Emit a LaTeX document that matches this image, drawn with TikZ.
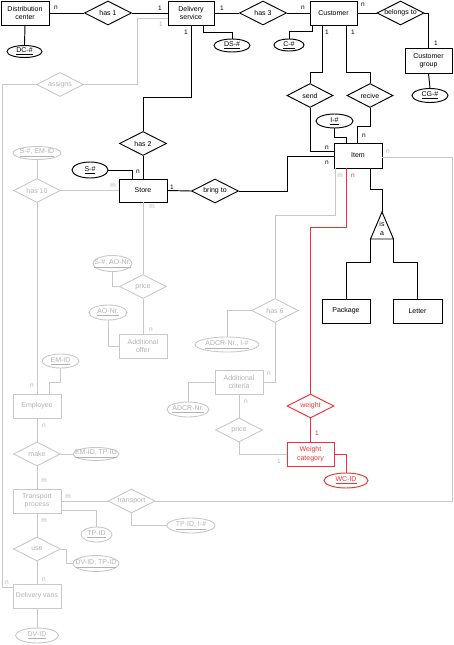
\documentclass[tikz,border=0pt]{standalone}
\usepackage{fontspec}
\setmainfont{Liberation Sans}
\usetikzlibrary{shapes.geometric,calc}
\definecolor{lg}{RGB}{200,200,200}
\definecolor{lgt}{RGB}{178,178,178}
\definecolor{rd}{RGB}{240,50,50}
\newcommand{\attrtxt}[1]{\makebox[0pt]{\underline{#1}}}
\begin{document}
\begin{tikzpicture}[x=1pt,y=-1pt,font=\fontsize{7}{8.4}\selectfont,line width=0.95pt,
  ent/.style={draw, rectangle, minimum width=47pt, minimum height=24pt, inner sep=1pt, align=center},
  rel/.style={draw, diamond, aspect=2, inner sep=0pt, minimum width=47pt, minimum height=24pt},
  att/.style 2 args={draw, ellipse, inner sep=0pt, minimum width=#1pt, minimum height=#2pt},
  gn/.style={draw=lg, text=lgt, line width=0.9pt},
  rn/.style={draw=rd, text=rd},
  gl/.style={draw=lg, line width=0.9pt},
  rl/.style={draw=rd},
  card/.style={font=\fontsize{6.5}{6.5}\selectfont, inner sep=0pt},
  gc/.style={card, text=lgt},
  rc/.style={card, text=rd}]
\useasboundingbox (0,0) rectangle (454,645);

% ---------- nodes: black ----------
\node[ent, minimum width=48pt] (DC) at (25,13) {Distribution\\center};
\node[rel] (has1) at (108,13) {has 1};
\node[ent, minimum width=46pt] (DS) at (191,13) {Delivery\\service};
\node[rel] (has3) at (263,13) {has 3};
\node[ent] (CU) at (333.5,13) {Customer};
\node[rel] (bel) at (400.5,13) {belongs to};
\node[ent, minimum height=25pt] (CG) at (428.5,60.5) {Customer\\group};
\node[att={35}{12}] (DCid) at (24.5,51.5) {\attrtxt{DC-\#}};
\node[att={36}{13}] (DSid) at (232,45.5) {\attrtxt{DS-\#}};
\node[att={30}{12}] (Cid) at (289,45) {\attrtxt{C-\#}};
\node[att={36}{14}] (CGid) at (430,95.5) {\attrtxt{CG-\#}};
\node[rel, minimum width=46pt] (send) at (310,95.5) {send};
\node[rel, minimum width=46pt] (recive) at (370,95.5) {recive};
\node[att={37}{14}] (Iid) at (334.5,121) {\attrtxt{I-\#}};
\node[ent, minimum width=48pt, minimum height=25pt] (Item) at (358,155.5) {Item};
\node[rel] (has2) at (143,143.5) {has 2};
\node[ent, minimum width=48pt, minimum height=23pt] (Store) at (143,190.5) {Store};
\node[att={36}{16}] (Sid) at (90,170) {\attrtxt{S-\#}};
\node[rel] (bring) at (215,191) {bring to};
\coordinate (isaT) at (382,212);
\coordinate (isaL) at (370.5,239);
\coordinate (isaR) at (393.5,239);
\draw (isaT) -- (isaR) -- (isaL) -- cycle;
\node[align=center, font=\fontsize{7}{9}\selectfont, inner sep=0pt] (isa) at (382,228.5) {is\\a};
\node[ent, minimum width=48pt] (Package) at (346,311) {Package};
\node[ent, minimum width=49pt] (Letter) at (417.5,311) {Letter};

% ---------- nodes: red ----------
\node[rel, rn] (weight) at (310.5,406) {weight};
\node[ent, rn] (WCat) at (310.5,454) {Weight\\category};
\node[att={44}{15}, rn] (WCid) at (346,480.5) {\attrtxt{WC-ID}};

% ---------- nodes: gray ----------
\node[rel, gn] (assigns) at (60,84.5) {assigns};
\node[att={48}{13}, gn] (SEMid) at (37,153) {\attrtxt{S-\#, EM-ID}};
\node[rel, gn] (has10) at (37,190.5) {has 10};
\node[att={39}{16}, gn] (SAOid) at (112.5,263.5) {\attrtxt{S-\#, AO-Nr.}};
\node[rel, gn] (price1) at (143,286.5) {price};
\node[att={38}{15}, gn] (AOid) at (108,312.5) {\attrtxt{AO-Nr.}};
\node[ent, gn, minimum width=48pt] (AO) at (143,346) {Additional\\offer};
\node[rel, gn] (has6) at (275,310.5) {has 6};
\node[att={64}{15}, gn] (ADCRI) at (227,344.5) {\attrtxt{ADCR-Nr., I-\#}};
\node[ent, gn, minimum width=48pt] (AC) at (239,382) {Additional\\criteria};
\node[att={42}{15}, gn] (ADCR) at (188,409.5) {\attrtxt{ADCR-Nr.}};
\node[rel, gn] (price2) at (239,430) {price};
\node[att={37}{14}, gn] (EMid) at (60.5,361) {\attrtxt{EM-ID}};
\node[ent, gn, minimum width=48pt] (EMP) at (37,406) {Employee};
\node[rel, gn] (make) at (37,454) {make};
\node[att={46}{13}, gn] (EMTP) at (96,454) {\attrtxt{EM-ID, TP-ID}};
\node[ent, gn, minimum width=48pt] (TP) at (37,501) {Transport\\process};
\node[rel, gn] (transport) at (131.5,501) {transport};
\node[att={31}{15}, gn] (TPid) at (96.5,534.5) {\attrtxt{TP-ID}};
\node[att={48}{15}, gn] (TPI) at (191,525.5) {\attrtxt{TP-ID, I-\#}};
\node[rel, gn] (use) at (37,549) {use};
\node[att={46}{16}, gn] (DVTP) at (96,563.5) {\attrtxt{DV-ID, TP-ID}};
\node[ent, gn, minimum width=48pt] (DV) at (37,596) {Delivery vans};
\node[att={43}{15}, gn] (DVid) at (37,635.5) {\attrtxt{DV-ID}};

% ---------- gray connectors ----------
\draw[gl] (Item.east |- 0,157) -| (452,501) -- (transport.east);
\draw[gl] (Item.south -| 335,0) -- (335,215) -| (has6.north);
\draw[gl] (has6.west) -| (ADCRI.north);
\draw[gl] (has6.south) |- (AC.east);
\draw[gl] (AC.west) -| (ADCR.north);
\draw[gl] (AC.south) -- (price2.north);
\draw[gl] (price2.south) |- (WCat.west);
\draw[gl] (has10.east) -- (Store.west);
\draw[gl] (SEMid.south) -- (has10.north);
\draw[gl] (has10.south) -- (EMP.north);
\draw[gl] (EMid.south) -- (60.5,382) -| (EMP.north -| 49,0);
\draw[gl] (Store.south) -- (price1.north);
\draw[gl] (SAOid.south) |- (price1.west);
\draw[gl] (price1.south) -- (AO.north);
\draw[gl] (AOid.south) |- (AO.west);
\draw[gl] (EMP.south) -- (make.north);
\draw[gl] (make.east) -- (EMTP.west);
\draw[gl] (make.south) -- (TP.north);
\draw[gl] (TP.east) -- (transport.west);
\draw[gl] (TP.east |- 0,510) -| (TPid.north);
\draw[gl] (transport.south) |- (TPI.west);
\draw[gl] (TP.south) -- (use.north);
\draw[gl] (use.east) -- ++(5,0) |- (DVTP.west);
\draw[gl] (use.south) -- (DV.north);
\draw[gl] (DV.south) -- (DVid.north);
\draw[gl] (assigns.east) -| (137,18) -- (DS.west |- 0,18);
\draw[gl] (assigns.west) -| (2,587) -- (DV.west |- 0,587);

% ---------- black connectors ----------
\draw (DC.east) -- (has1.west);
\draw (has1.east) -- (DS.west);
\draw (DC.south) -- (DCid.north);
\draw (DS.east) -- (has3.west);
\draw (has3.east) -- (CU.west);
\draw (CU.east) -- (bel.west);
\draw (bel.east) -| (CG.north);
\draw (CG.south) -- (CGid.north);
\draw (DS.south -| 203,0) -- (203,32) -| (DSid.north);
\draw (CU.south -| 312,0) -- (312,31) -| (Cid.north);
\draw (CU.south -| 322,0) -- (322,72) -| (send.north);
\draw (CU.south -| 346,0) -- (346,72) -| (recive.north);
\draw (send.south) |- (Item.west |- 0,151);
\draw (recive.south) |- (357,126) -- (Item.north -| 357,0);
\draw (Iid.south) |- (346,137) -- (Item.north -| 346,0);
\draw (Store.east) -- (bring.west);
\draw (bring.east) -| (287,156) -- (Item.west |- 0,156);
\draw (Item.south -| 370,0) |- (382,189) -- (isaT);
\draw (isaL) -- ++(0,23) -| (Package.north);
\draw (isaR) -- ++(0,23) -| (Letter.north);
\draw (DS.south) -- ++(0,72) -| (has2.north);
\draw (has2.south) -- (Store.north);
\draw (Sid.east) -| (Store.north -| 132,0);

% ---------- red connectors ----------
\draw[rl] (Item.south -| 346,0) -- (346,227) -| (weight.north);
\draw[rl] (weight.south) -- (WCat.north);
\draw[rl] (WCat.east) -| (WCid.north);

% ---------- cardinalities ----------
\node[card] (k1) at (56,8) {n};
\node[card] (k2) at (160,8) {1};
\node[card] (k3) at (222,8) {1};
\node[card] (k4) at (303,8) {n};
\node[card] (k5) at (363,5) {n};
\node[card] (k6) at (436,43) {1};
\node[card] (k7) at (186,32) {1};
\node[card] (k8) at (327,32) {1};
\node[card] (k9) at (353,32) {1};
\node[card] (k10) at (364,136) {n};
\node[card] (k11) at (327,148) {n};
\node[card] (k12) at (327,163) {n};
\node[card] (k13) at (138,172) {n};
\node[card] (k14) at (172,187) {1};
\node[rc] (r1) at (353,176) {n};
\node[rc] (r2) at (317,433) {1};
\node[gc] (g1) at (161,24) {1};
\node[gc] (g2) at (388,152) {n};
\node[gc] (g3) at (340,176) {m};
\node[gc] (g4) at (113,186) {m};
\node[gc] (g5) at (152,207) {m};
\node[gc] (g6) at (151,330) {n};
\node[gc] (g7) at (269,374) {n};
\node[gc] (g8) at (246,402) {n};
\node[gc] (g9) at (279,461) {1};
\node[gc] (g10) at (32,386) {n};
\node[gc] (g11) at (44,426) {n};
\node[gc] (g12) at (44,481) {m};
\node[gc] (g13) at (68,497) {m};
\node[gc] (g14) at (44,521) {m};
\node[gc] (g15) at (44,580) {n};
\node[gc] (g16) at (7,583) {n};
\end{tikzpicture}
\end{document}
